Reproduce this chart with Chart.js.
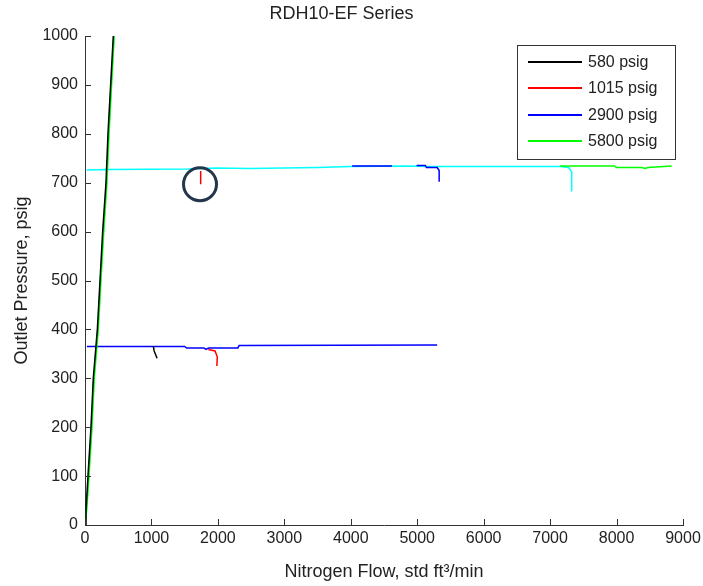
<!DOCTYPE html>
<html>
<head>
<meta charset="utf-8">
<script src="https://cdn.jsdelivr.net/npm/chart.js@4.4.0/dist/chart.umd.min.js"></script>
<style>
  html, body { margin: 0; padding: 0; background: #fff; }
  #wrap { width: 703px; height: 586px; }
</style>
</head>
<body>
<div id="wrap"><canvas id="chart" width="703" height="586"></canvas></div>
<script>
// Outlet pressure (psig) against nitrogen flow (std ft3/min).
// A null splits a series into separate pieces of line.
const chartTitle = 'RDH10-EF Series';
const xTitle = 'Nitrogen Flow, std ft\u00B3/min';
const yTitle = 'Outlet Pressure, psig';

const xTicks = [0, 1000, 2000, 3000, 4000, 5000, 6000, 7000, 8000, 9000];
const yTicks = [0, 100, 200, 300, 400, 500, 600, 700, 800, 900, 1000];

const labels = ['580 psig', '1015 psig', '2900 psig', '5800 psig'];

// 580 psig (black)
const flow580 = [0, 15, 45, 90, 125, 186, 226, 266, 316, 346, 386, 426, null, 1028, 1040, 1085];
const psig580 = [0, 30, 100, 200, 300, 400, 500, 600, 700, 800, 900, 1000, null, 366, 356, 341];

// 1015 psig (red)
const flow1015 = [1741, 1741, null, 1856, 1957, 1991, 1985];
const psig1015 = [724, 697, null, 359, 356, 344, 325];

// 2900 psig (blue)
const flow2900 = [30, 1500, 1530, 1790, 1820, 1860, 2300, 2320, 5300, null,
                  4020, 4620, null, 4990, 5120, 5140, 5300, 5330, 5330];
const psig2900 = [365, 365, 362, 362, 359, 362, 362, 367, 368, null,
                  734, 734, null, 735, 735, 731, 731, 725, 702];

// 5800 psig (green)
const flow5800 = [0, 25, 60, 105, 140, 200, 240, 282, 330, 362, 400, 440, null,
                  7150, 7970, 8000, 8380, 8430, 8470, 8830];
const psig5800 = [0, 30, 100, 200, 300, 400, 500, 600, 700, 800, 900, 1000, null,
                  734, 734, 731, 731, 729, 731, 734];

// extra cyan trace (not in the legend)
const flowCyan = [0, 20, 52, 97, 132, 193, 233, 274, 323, 354, 393, 433, null,
                  25, 320, 1550, 1980, 2480, 3500, 4000, 4850, 5150, 7150, 7280, 7325, 7325];
const psigCyan = [0, 30, 100, 200, 300, 400, 500, 600, 700, 800, 900, 1000, null,
                  726, 727, 728, 730, 729, 731, 733, 734, 733, 733, 731, 722, 682];

// circled point
const markFlow = [1731];
const markPsig = [697];

function toPoints(xs, ys) {
  return xs.map((x, i) => ({ x: x, y: ys[i] }));
}

const axisColor = '#333333';
const textColor = '#222222';
const fontFamily = '"Liberation Sans", Arial, sans-serif';

Chart.defaults.font.family = fontFamily;
Chart.defaults.font.size = 16;
Chart.defaults.color = textColor;

// MATLAB style: ticks point into the plot area
const innerTicks = {
  id: 'innerTicks',
  afterDraw(chart) {
    const ctx = chart.ctx;
    const area = chart.chartArea;
    const xs = chart.scales.x;
    const ys = chart.scales.y;
    ctx.save();
    ctx.strokeStyle = axisColor;
    ctx.lineWidth = 1;
    ctx.beginPath();
    xs.ticks.forEach(t => {
      const px = Math.round(xs.getPixelForValue(t.value)) + 0.5;
      ctx.moveTo(px, area.bottom);
      ctx.lineTo(px, area.bottom - 6);
    });
    ys.ticks.forEach(t => {
      const py = Math.round(ys.getPixelForValue(t.value)) + 0.5;
      ctx.moveTo(area.left, py);
      ctx.lineTo(area.left + 6, py);
    });
    ctx.stroke();
    ctx.restore();
  }
};

// boxed legend in the top right corner of the plot
const boxLegend = {
  id: 'boxLegend',
  afterDraw(chart) {
    const ctx = chart.ctx;
    const area = chart.chartArea;
    const right = area.right - 8;
    const top = area.top + 9;
    const w = 158, h = 114;
    const left = right - w;
    ctx.save();
    ctx.fillStyle = '#ffffff';
    ctx.fillRect(left, top, w, h);
    ctx.strokeStyle = axisColor;
    ctx.lineWidth = 1;
    ctx.strokeRect(left + 0.5, top + 0.5, w, h);
    ctx.font = '16px ' + fontFamily;
    ctx.textBaseline = 'middle';
    ctx.textAlign = 'left';
    const items = chart.data.datasets.filter(ds => ds.legendIndex >= 0)
      .sort((a, b) => a.legendIndex - b.legendIndex);
    items.forEach((ds, i) => {
      const y = Math.round(top + 17 + i * 26.4);
      ctx.strokeStyle = ds.borderColor;
      ctx.lineWidth = 2;
      ctx.beginPath();
      ctx.moveTo(left + 11, y);
      ctx.lineTo(left + 65, y);
      ctx.stroke();
      ctx.fillStyle = textColor;
      ctx.fillText(ds.label, left + 71, y + 1);
    });
    ctx.restore();
  }
};

function lineSet(label, xs, ys, color, legendIndex) {
  return {
    label: label,
    data: toPoints(xs, ys),
    borderColor: color,
    backgroundColor: color,
    borderWidth: 1.5,
    pointRadius: 0,
    tension: 0,
    spanGaps: false,
    legendIndex: legendIndex
  };
}

new Chart(document.getElementById('chart'), {
  type: 'line',
  data: {
    datasets: [
      {
        label: 'mark',
        data: toPoints(markFlow, markPsig),
        showLine: false,
        pointStyle: 'circle',
        pointRadius: 16.5,
        borderWidth: 3,
        borderColor: '#24364c',
        backgroundColor: 'rgba(0,0,0,0)',
        legendIndex: -1
      },
      lineSet(labels[0], flow580, psig580, '#000000', 0),
      lineSet(labels[1], flow1015, psig1015, '#ff0000', 1),
      lineSet(labels[3], flow5800, psig5800, '#00ff00', 3),
      lineSet(labels[2], flow2900, psig2900, '#0000ff', 2),
      lineSet('', flowCyan, psigCyan, '#00ffff', -1)
    ]
  },
  options: {
    responsive: false,
    animation: false,
    events: [],
    layout: { padding: { left: 0, right: 20, top: 0, bottom: 0 } },
    plugins: {
      legend: { display: false },
      tooltip: { enabled: false },
      title: {
        display: true,
        text: chartTitle,
        color: textColor,
        font: { size: 18, weight: 'normal' },
        padding: { top: 3, bottom: 11.4 }
      }
    },
    scales: {
      x: {
        type: 'linear',
        min: 0,
        max: 9000,
        afterBuildTicks: s => { s.ticks = xTicks.map(v => ({ value: v })); },
        afterFit: s => { s.height = 61; s.paddingLeft = 0; s.paddingRight = 0; },
        grid: { display: false, drawTicks: false },
        border: { display: true, color: axisColor, width: 1 },
        ticks: {
          color: textColor,
          font: { size: 16 },
          padding: 4,
          maxRotation: 0,
          autoSkip: false,
          callback: v => String(v)
        },
        title: {
          display: true,
          text: xTitle,
          color: textColor,
          font: { size: 18 },
          padding: { top: 0, bottom: 3 }
        }
      },
      y: {
        type: 'linear',
        min: 0,
        max: 1000,
        afterBuildTicks: s => { s.ticks = yTicks.map(v => ({ value: v })); },
        afterFit: s => { s.width = 85; s.paddingTop = 0; s.paddingBottom = 0; },
        grid: { display: false, drawTicks: false },
        border: { display: true, color: axisColor, width: 1 },
        ticks: {
          color: textColor,
          font: { size: 16 },
          padding: 7,
          autoSkip: false,
          callback: v => String(v)
        },
        title: {
          display: true,
          text: yTitle,
          color: textColor,
          font: { size: 18 },
          padding: { top: 11, bottom: 0 }
        }
      }
    }
  },
  plugins: [innerTicks, boxLegend]
});
</script>
</body>
</html>
